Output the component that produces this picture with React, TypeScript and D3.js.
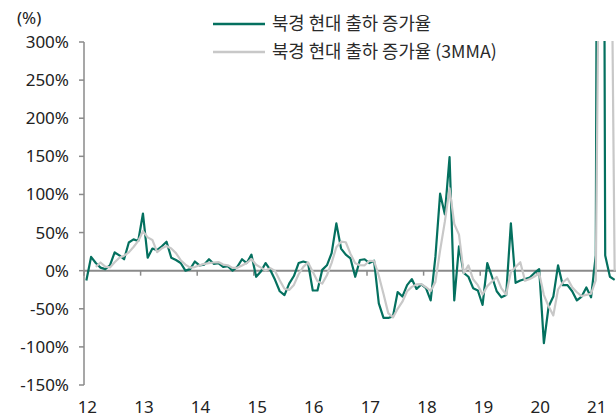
import * as d3 from 'd3';
import React from 'react';

// 월별 출하 증가율 (%), 2012.01 ~ 2021.05
const shipmentYoY = [
  -13, 18, 10, 4, 2, 7, 24, 20, 15, 37, 41, 39,
  75, 17, 29, 27, 32, 38, 17, 14, 10, 0, 2, 12,
  7, 8, 15, 9, 10, 5, 6, 0, 5, 15, 10, 21,
  -8, -1, 10, 1, -12, -27, -32, -17, -7, 10, 12, 10,
  -26, -26, 1, 7, 23, 62, 29, 21, 16, -8, 14, 15,
  10, 13, -43, -62, -62, -60, -28, -34, -19, -11, -24, -18,
  -23, -39, 18, 101, 74, 149, -39, 32, -3, -8, -23, -26,
  -45, 10, -8, -27, -35, -32, 62, -16, -13, -11, -9, -3,
  2, -95, -47, -34, 7, -19, -19, -27, -39, -34, -22, -35,
  20, 2000, 20, -8, -12,
];

// 3개월 이동평균 (%)
const shipmentYoY3MMA = [
  null, null, 5.0, 10.7, 5.3, 4.3, 11.0, 17.0, 19.7, 24.0, 31.0, 39.0,
  51.7, 43.7, 40.3, 24.3, 29.3, 32.3, 29.0, 23.0, 13.7, 8.0, 4.0, 4.7,
  7.0, 9.0, 10.0, 10.7, 11.3, 8.0, 7.0, 3.7, 3.7, 6.7, 10.0, 15.3,
  7.7, 4.0, 0.3, 3.3, -0.3, -12.7, -23.7, -25.3, -18.7, -4.7, 5.0, 10.7,
  -1.3, -14.0, -17.0, -6.0, 10.3, 30.7, 38.0, 37.3, 22.0, 9.7, 7.3, 7.0,
  13.0, 12.7, -6.7, -30.7, -55.7, -61.3, -50.0, -40.7, -27.0, -21.3, -18.0, -17.7,
  -21.7, -26.7, -14.7, 26.7, 64.3, 108.0, 61.3, 47.3, -3.3, 7.0, -11.3, -19.0,
  -31.3, -20.3, -14.3, -8.3, -23.3, -31.3, -1.7, 4.7, 11.0, -13.3, -11.0, -7.7,
  -3.3, -32.0, -46.7, -58.7, -24.7, -15.3, -10.3, -21.7, -28.3, -33.3, -31.7, -30.3,
  -12.3, 661.7, 680.0, 670.7, 0.0,
];

const yearLabels = ['12', '13', '14', '15', '16', '17', '18', '19', '20', '21'];
const yTicks = [-150, -100, -50, 0, 50, 100, 150, 200, 250, 300];
const seriesNames = ['북경 현대 출하 증가율', '북경 현대 출하 증가율 (3MMA)'];

const categories: string[] = [];
yearLabels.forEach((yy) => {
  for (let m = 1; m <= 12; m++) categories.push(`20${yy}-${String(m).padStart(2, '0')}`);
});
categories.length = shipmentYoY.length;

const width = 616;
const height = 420;
const left = 84;
const right = 617;
const top = 42;
const bottom = 385;

const green = '#04705f';
const grey = '#c8c8c8';
const axisGrey = '#8a8a8a';
const numFont = "'Noto Sans', sans-serif";
const krFont = "'Noto Sans CJK KR', 'Noto Sans', sans-serif";

export default function App() {
  const x = d3.scaleBand<string>().domain(categories).range([left, right]);
  const bw = x.bandwidth();
  const y = d3.scaleLinear().domain([-150, 300]).range([bottom, top]);

  const line = d3
    .line<number | null>()
    .defined((d) => d != null)
    .x((_, i) => (x(categories[i]) as number) + bw / 2)
    .y((d) => y(d as number));

  const yearStarts = categories.filter((c) => c.endsWith('-01'));

  return (
    <svg width={width} height={height} style={{ position: 'absolute', left: 0, top: 0 }}>
      <defs>
        <clipPath id="plot">
          <rect x={left} y={top - 1} width={right - left} height={bottom - top + 2} />
        </clipPath>
      </defs>

      <text x={17} y={24} fontFamily={numFont} fontSize={17} fill="#222">(%)</text>

      {/* y axis */}
      <line x1={left} x2={left} y1={top} y2={bottom} stroke={axisGrey} strokeWidth={1.5} />
      {yTicks.map((t) => (
        <g key={t}>
          <line x1={left - 5} x2={left} y1={y(t)} y2={y(t)} stroke={axisGrey} strokeWidth={1.5} />
          <text
            x={69}
            y={y(t)}
            dy="0.35em"
            textAnchor="end"
            fontFamily={numFont}
            fontSize={17}
            fill="#222"
          >
            {t}%
          </text>
        </g>
      ))}

      {/* category axis on zero line */}
      <line x1={left} x2={right} y1={y(0)} y2={y(0)} stroke={axisGrey} strokeWidth={2} />
      {yearStarts.map((c) => (
        <line
          key={c}
          x1={x(c)}
          x2={x(c)}
          y1={y(0)}
          y2={y(0) + 5}
          stroke={axisGrey}
          strokeWidth={1.5}
        />
      ))}
      {yearStarts.map((c, i) => (
        <text
          key={c}
          x={(x(c) as number) + bw / 2 + 1}
          y={413}
          textAnchor="middle"
          fontFamily={numFont}
          fontSize={17}
          fill="#222"
        >
          {yearLabels[i]}
        </text>
      ))}

      <g clipPath="url(#plot)" fill="none" strokeLinejoin="round">
        <path d={line(shipmentYoY) || ''} stroke={green} strokeWidth={2.2} />
        <path d={line(shipmentYoY3MMA) || ''} stroke={grey} strokeWidth={2.2} />
      </g>

      {/* legend */}
      {seriesNames.map((name, i) => (
        <g key={name} transform={`translate(0, ${24 + i * 28})`}>
          <line x1={213} x2={265} y1={0} y2={0} stroke={i === 0 ? green : grey} strokeWidth={2.5} />
          <text x={272} y={0} dy="0.35em" fontFamily={krFont} fontSize={17.8} fill="#2a2a2a">
            {name}
          </text>
        </g>
      ))}
    </svg>
  );
}
